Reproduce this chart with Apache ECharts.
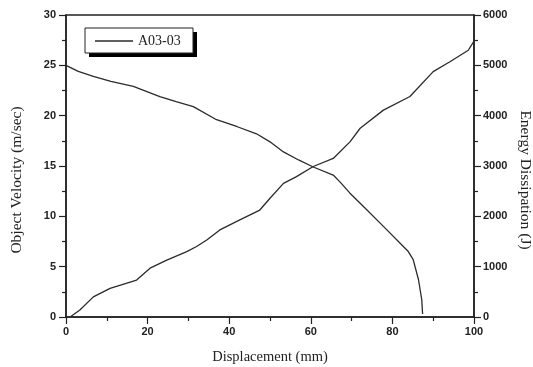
<!DOCTYPE html>
<html>
<head>
<meta charset="utf-8">
<script src="https://cdn.jsdelivr.net/npm/echarts@6/dist/echarts.min.js"></script>
<style>
  html, body { margin: 0; padding: 0; background: #fff; }
  #chart { width: 533px; height: 367px; }
</style>
</head>
<body>
<div id="chart"></div>
<script>
// Object velocity (m/sec) against displacement (mm)
const velocityDisp = [0, 3, 6.7, 11, 16.5, 23, 27, 31.2, 36.9, 42, 46.7, 50, 53.3, 57, 60.6, 65.5, 67.2, 69.6, 72.1, 77.8, 83.9, 85.1, 86.4, 87.2, 87.4];
const velocity     = [25, 24.4, 23.9, 23.4, 22.9, 21.9, 21.4, 20.9, 19.6, 18.9, 18.2, 17.4, 16.4, 15.6, 14.9, 14.1, 13.4, 12.3, 11.3, 9.0, 6.5, 5.7, 3.7, 1.7, 0.3];

// Energy dissipation (J) against displacement (mm)
const energyDisp = [1, 3.4, 6.7, 10.8, 17.3, 20.6, 24.7, 29.6, 32, 34.5, 37.7, 42.6, 47.5, 50, 53.3, 56.5, 60.6, 65.5, 69.6, 72.1, 77.8, 84.3, 90, 94.1, 98.6, 100];
const energy     = [0, 140, 400, 570, 735, 970, 1130, 1300, 1400, 1530, 1730, 1930, 2125, 2360, 2655, 2790, 2990, 3150, 3480, 3750, 4110, 4380, 4875, 5070, 5300, 5480];

const seriesName = 'A03-03';
const xTitle = 'Displacement (mm)';
const yLeftTitle = 'Object Velocity (m/sec)';
const yRightTitle = 'Energy Dissipation (J)';

const ink = '#222';
const curveColor = '#2b2b2b';
const serif = '"Liberation Serif", "DejaVu Serif", serif';
const tickFont = { fontFamily: '"Liberation Sans", Arial, sans-serif', fontWeight: 'bold', fontSize: 11, color: ink };

const pair = (xs, ys) => xs.map((x, i) => [x, ys[i]]);

const chart = echarts.init(document.getElementById('chart'), null, { renderer: 'canvas' });

const axisCommon = {
  type: 'value',
  axisLine: { show: true, lineStyle: { color: ink, width: 1.5 } },
  axisTick: { show: true, inside: false, length: 7, lineStyle: { color: ink, width: 1.2 } },
  minorTick: { show: true, splitNumber: 2, length: 4, lineStyle: { color: ink, width: 1.2 } },
  splitLine: { show: false }
};
const plainLabel = (margin) => Object.assign({ margin: margin, formatter: (v) => String(v) }, tickFont);

chart.setOption({
  animation: false,
  backgroundColor: '#fff',
  grid: { left: 66, right: 59, top: 15, bottom: 50, show: true, borderColor: ink, borderWidth: 1.5, backgroundColor: 'transparent' },
  legend: {
    data: [seriesName],
    left: 95, top: 34,
    padding: 0,
    icon: 'rect',
    itemWidth: 38, itemHeight: 1.4,
    textStyle: { fontFamily: serif, fontSize: 14, color: ink },
    selectedMode: false
  },
  xAxis: Object.assign({}, axisCommon, {
    min: 0, max: 100, interval: 20,
    axisLabel: plainLabel(9)
  }),
  yAxis: [
    Object.assign({}, axisCommon, { position: 'left', min: 0, max: 30, interval: 5, axisLabel: plainLabel(10) }),
    Object.assign({}, axisCommon, { position: 'right', min: 0, max: 6000, interval: 1000, axisLabel: plainLabel(9) })
  ],
  graphic: [
    // legend frame with its offset black shadow
    { type: 'rect', z: -1, shape: { x: 89, y: 32, width: 108, height: 25 }, style: { fill: '#000' } },
    { type: 'rect', z: 0, shape: { x: 85, y: 28, width: 108, height: 25 }, style: { fill: '#fff', stroke: ink, lineWidth: 1 } },
    // axis titles
    { type: 'text', x: 270, y: 357, style: { text: xTitle, font: '14.5px ' + serif, fill: ink, textAlign: 'center', textVerticalAlign: 'middle' } },
    { type: 'text', x: 17, y: 180, rotation: Math.PI / 2, style: { text: yLeftTitle, font: '15.5px ' + serif, fill: ink, textAlign: 'center', textVerticalAlign: 'middle' } },
    { type: 'text', x: 525, y: 180, rotation: -Math.PI / 2, style: { text: yRightTitle, font: '15.5px ' + serif, fill: ink, textAlign: 'center', textVerticalAlign: 'middle' } }
  ],
  series: [
    {
      name: seriesName, type: 'line', yAxisIndex: 0,
      data: pair(velocityDisp, velocity),
      symbol: 'none',
      lineStyle: { color: curveColor, width: 1.3 },
      itemStyle: { color: curveColor }
    },
    {
      name: 'Energy', type: 'line', yAxisIndex: 1,
      data: pair(energyDisp, energy),
      symbol: 'none',
      lineStyle: { color: curveColor, width: 1.3 },
      itemStyle: { color: curveColor }
    }
  ]
});
</script>
</body>
</html>
